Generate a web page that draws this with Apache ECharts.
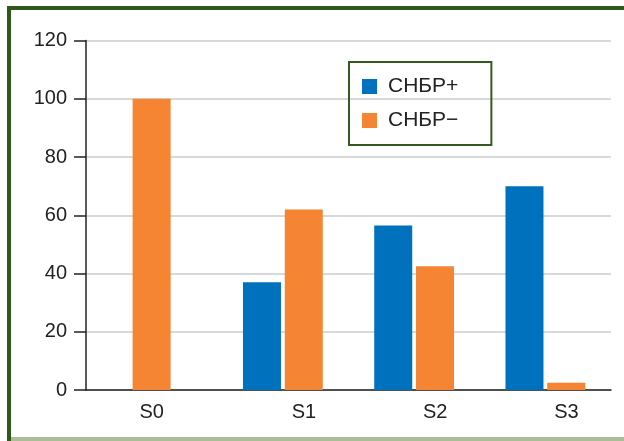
<!DOCTYPE html>
<html>
<head>
<meta charset="utf-8">
<script src="https://cdn.jsdelivr.net/npm/echarts@6/dist/echarts.min.js"></script>
<style>
  html, body { margin: 0; padding: 0; background: #fff; }
  #main { width: 624px; height: 441px; }
</style>
</head>
<body>
<div id="main"></div>
<script>
const categories = ['S0', 'S1', 'S2', 'S3'];
const seriesNames = ['СНБР+', 'СНБР−'];
const positiveValues = [null, 37, 56.5, 70];
const negativeValues = [null, 62, 42.5, 2.5];
// S0 only has the negative bar, drawn centred on its own hidden axis
const negativeS0 = [100, null, null, null];

const blue = '#0071bc';
const orange = '#f58433';
const textColor = '#222';

const chart = echarts.init(document.getElementById('main'));

const options = {
  animation: false,
  backgroundColor: '#fff',
  textStyle: { fontFamily: 'Liberation Sans, Arial, sans-serif' },
  grid: { left: 86, right: 13, top: 40.5, bottom: 51, containLabel: false },
  legend: {
    data: seriesNames,
    orient: 'vertical',
    left: 349,
    top: 62,
    padding: [14, 33, 14, 13],
    itemWidth: 15,
    itemHeight: 15,
    itemGap: 13,
    borderColor: '#355a1e',
    borderWidth: 2,
    icon: 'rect',
    textStyle: { fontSize: 21, color: textColor, padding: [0, 0, 0, 6] }
  },
  xAxis: [
    {
      type: 'category',
      data: categories,
      axisLine: { lineStyle: { color: textColor, width: 1.5 } },
      axisTick: { length: 12, lineStyle: { color: textColor, width: 1.5 } },
      axisLabel: {
        margin: 12,
        fontSize: 20,
        color: textColor,
        formatter: (v, i) => (i === 0 ? `{a|${v}}` : `{b|${v}}`),
        rich: {
          a: { fontSize: 20, color: textColor },
          b: { fontSize: 20, color: textColor, padding: [0, 0, 0, 42] }
        }
      }
    },
    {
      type: 'category',
      data: categories,
      show: false
    }
  ],
  yAxis: {
    type: 'value',
    min: 0,
    max: 120,
    interval: 20,
    axisLine: { show: true, lineStyle: { color: textColor, width: 1.5 } },
    axisTick: { show: true, length: 12, lineStyle: { color: textColor, width: 1.5 } },
    axisLabel: { margin: 19, fontSize: 20, color: textColor },
    splitLine: { lineStyle: { color: '#cccccc', width: 1.5 } }
  },
  series: [
    {
      name: seriesNames[0],
      type: 'bar',
      data: positiveValues,
      barWidth: 38,
      barGap: '10%',
      itemStyle: { color: blue }
    },
    {
      name: seriesNames[1],
      type: 'bar',
      data: negativeValues,
      barWidth: 38,
      barGap: '10%',
      itemStyle: { color: orange }
    },
    {
      name: seriesNames[1],
      type: 'bar',
      xAxisIndex: 1,
      data: negativeS0,
      barWidth: 38,
      itemStyle: { color: orange }
    }
  ],
  graphic: [
    { type: 'rect', shape: { x: 7, y: 6, width: 617, height: 4 }, style: { fill: '#2f5a1a' } },
    { type: 'rect', shape: { x: 7, y: 6, width: 4, height: 435 }, style: { fill: '#2f5a1a' } },
    { type: 'rect', shape: { x: 11, y: 437, width: 613, height: 4 }, style: { fill: '#a9bd96' } }
  ]
};

chart.setOption(options);
</script>
</body>
</html>
